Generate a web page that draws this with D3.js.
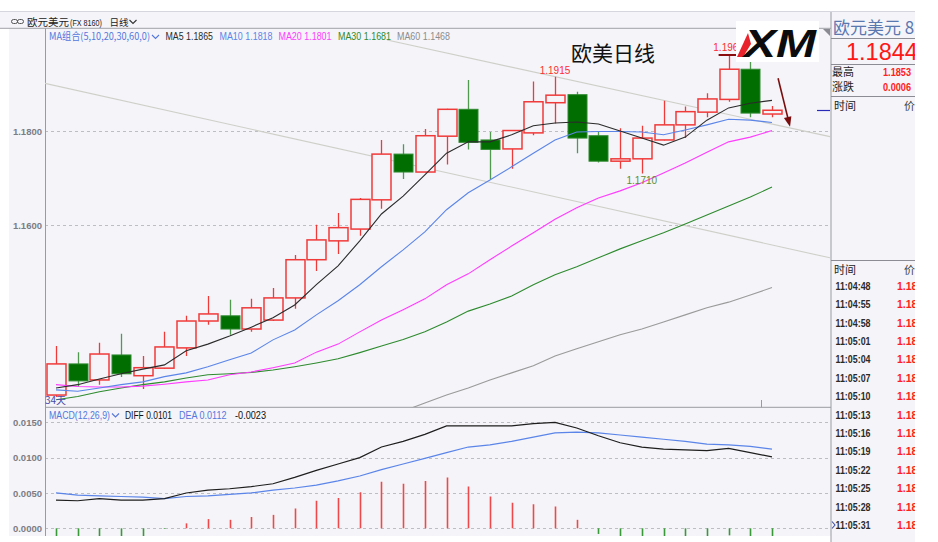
<!DOCTYPE html>
<html><head><meta charset="utf-8">
<script src="https://cdn.jsdelivr.net/npm/d3@7/dist/d3.min.js"></script>
<style>
html,body{margin:0;padding:0;background:#fff;overflow:hidden}
svg{display:block}
text{font-family:"Liberation Sans",Arial,"Noto Sans CJK SC",sans-serif}
.cjk{font-family:"Noto Sans CJK SC","Liberation Sans",sans-serif}
</style></head><body>
<svg id="chart" width="938" height="542"></svg>
<script>
// ---------------- DATA ----------------
const symbolName = "欧元美元";
const symbolCode = "(FX 8160)";
const periodName = "日线";
const chartTitle = "欧美日线";
const dayCountLabel = "34天";

const openP  = [1.1240,1.1306,1.1272,1.1325,1.1281,1.1297,1.1340,1.1397,1.1408,1.1380,1.1399,1.1446,1.1527,1.1567,1.1592,1.1654,1.1751,1.1713,1.1789,1.1846,1.1781,1.1762,1.1796,1.1860,1.1877,1.1790,1.1736,1.1741,1.1781,1.1813,1.1840,1.1867,1.1931,1.1836];
const highP  = [1.1344,1.1331,1.1351,1.1370,1.1323,1.1374,1.1408,1.1450,1.1442,1.1444,1.1467,1.1537,1.1601,1.1626,1.1658,1.1781,1.1772,1.1804,1.1847,1.1908,1.1798,1.1802,1.1905,1.1915,1.1883,1.1800,1.1806,1.1811,1.1864,1.1852,1.1880,1.1961,1.1947,1.1853];
const lowP   = [1.1236,1.1257,1.1262,1.1278,1.1253,1.1295,1.1323,1.1389,1.1368,1.1374,1.1397,1.1423,1.1503,1.1539,1.1578,1.1635,1.1698,1.1712,1.1729,1.1761,1.1698,1.1720,1.1791,1.1816,1.1753,1.1733,1.1720,1.1710,1.1780,1.1785,1.1829,1.1862,1.1829,1.1829];
const closeP = [1.1306,1.1270,1.1327,1.1285,1.1298,1.1342,1.1397,1.1412,1.1380,1.1425,1.1446,1.1527,1.1569,1.1595,1.1655,1.1751,1.1713,1.1790,1.1846,1.1776,1.1761,1.1801,1.1862,1.1876,1.1785,1.1736,1.1741,1.1785,1.1813,1.1841,1.1868,1.1931,1.1838,1.1844];

const ma5  = [1.1255,1.1262,1.1274,1.1285,1.1295,1.1304,1.1334,1.1348,1.1365,1.1384,1.1404,1.1431,1.1474,1.1514,1.1567,1.1624,1.1662,1.1707,1.1753,1.1777,1.1777,1.1792,1.1811,1.1817,1.1819,1.1815,1.1800,1.1785,1.1770,1.1787,1.1823,1.1849,1.1859,1.1865];
const ma10 = [1.1251,1.1248,1.1255,1.1262,1.1268,1.1279,1.1287,1.1300,1.1315,1.1329,1.1357,1.1378,1.1410,1.1440,1.1474,1.1512,1.1548,1.1586,1.1633,1.1669,1.1696,1.1724,1.1753,1.1781,1.1798,1.1799,1.1799,1.1798,1.1792,1.1802,1.1813,1.1825,1.1823,1.1818];
const ma20 = [1.1262,1.1258,1.1257,1.1257,1.1259,1.1263,1.1268,1.1272,1.1283,1.1289,1.1298,1.1308,1.1331,1.1348,1.1374,1.1399,1.1421,1.1444,1.1474,1.1497,1.1527,1.1556,1.1584,1.1613,1.1637,1.1658,1.1673,1.1690,1.1711,1.1732,1.1755,1.1777,1.1787,1.1801];
const ma30 = [1.1230,1.1237,1.1247,1.1255,1.1262,1.1268,1.1276,1.1283,1.1285,1.1288,1.1293,1.1300,1.1308,1.1317,1.1330,1.1344,1.1358,1.1374,1.1395,1.1418,1.1433,1.1450,1.1474,1.1495,1.1512,1.1531,1.1550,1.1567,1.1584,1.1603,1.1622,1.1641,1.1660,1.1681];
const ma60 = [null,null,null,null,null,null,null,null,null,null,null,null,null,null,null,1.1192,1.1206,1.1223,1.1240,1.1255,1.1272,1.1287,1.1302,1.1323,1.1338,1.1353,1.1368,1.1380,1.1395,1.1410,1.1425,1.1437,1.1452,1.1468];

const maNames = ["MA5","MA10","MA20","MA30","MA60"];
const maLast  = [1.1865,1.1818,1.1801,1.1681,1.1468];

const diffV = [0.0040,0.0039,0.0042,0.0040,0.0040,0.0042,0.0050,0.0054,0.0056,0.0059,0.0063,0.0072,0.0082,0.0091,0.0100,0.0115,0.0123,0.0133,0.0145,0.0145,0.0145,0.0145,0.0148,0.0150,0.0142,0.0131,0.0121,0.0115,0.0112,0.0111,0.0110,0.0113,0.0107,0.0101];
const deaV  = [0.0050,0.0047,0.0046,0.0045,0.0044,0.0042,0.0045,0.0046,0.0048,0.0050,0.0054,0.0057,0.0061,0.0067,0.0074,0.0083,0.0091,0.0099,0.0107,0.0115,0.0118,0.0123,0.0129,0.0135,0.0136,0.0135,0.0132,0.0129,0.0126,0.0123,0.0119,0.0118,0.0116,0.0112];
const macdV = [-0.0020,-0.0016,-0.0012,-0.0012,-0.0011,-0.0001,0.0007,0.0013,0.0012,0.0016,0.0019,0.0028,0.0039,0.0043,0.0051,0.0066,0.0063,0.0067,0.0072,0.0059,0.0045,0.0036,0.0034,0.0031,0.0012,-0.0008,-0.0022,-0.0028,-0.0028,-0.0024,-0.0018,-0.0010,-0.0018,-0.0023];
const macdLegend = {diff:0.0101, dea:0.0112, macd:-0.0023};

const priceTicks = [1.16, 1.18];
const macdTicks  = [0, 0.005, 0.010, 0.015];

// labelled extremes (candle index)
const highLabelIdx = [23, 31];
const lowLabelIdx  = [27];

// trend lines drawn on chart: [index, price] endpoints
const trendLines = [
  [[-0.51,1.1901],[35.67,1.1531]],
  [[15.26,1.1993],[35.67,1.1788]]
];
const arrowAnno = [[33.28,1.1912],[33.83,1.1809]];

const lastPrice = 1.1844, dayHigh = 1.1853, dayChange = 0.0006;
const tickTimes = ["11:04:48","11:04:55","11:04:58","11:05:01","11:05:04","11:05:07","11:05:10","11:05:13","11:05:16","11:05:19","11:05:22","11:05:25","11:05:28","11:05:31"];
const tickPrices = ["1.18","1.18","1.18","1.18","1.18","1.18","1.18","1.18","1.18","1.18","1.18","1.18","1.18","1.18"];

// ---------------- LAYOUT ----------------
const W=938,H=542, BG="#f4f4f9";
const L=45, R=830.5, T=28.3, MB=407.3, BOT=536, PR=915;
const RED="#f03a3a", GREEN="#006e00", GREENW="#4f9a4f";
const n = openP.length;
const svg = d3.select("#chart");

const xs = d3.scaleLinear().domain([0,n-1]).range([56,772]);
const ys = d3.scaleLinear().domain([1.16,1.18]).range([225.3,131]);
const ym = d3.scaleLinear().domain([0,0.015]).range([528.3,422.3]);
const bodyW = 19;

// backgrounds
svg.append("rect").attr("width",W).attr("height",H).attr("fill","#fff");
svg.append("rect").attr("x",0).attr("y",12).attr("width",PR).attr("height",T-12).attr("fill",BG);
svg.append("rect").attr("x",9).attr("y",T).attr("width",PR-9).attr("height",BOT-T).attr("fill",BG);
svg.append("rect").attr("x",831).attr("y",12).attr("width",PR-831).attr("height",H-12).attr("fill",BG);
svg.append("line").attr("x1",0).attr("x2",PR).attr("y1",11.5).attr("y2",11.5).attr("stroke","#d6d6de");
svg.append("line").attr("x1",0).attr("x2",831).attr("y1",T).attr("y2",T).attr("stroke","#a0a0a8");

// header
const hdr = svg.append("g");
hdr.append("rect").attr("x",11.5).attr("y",19.5).attr("width",6).attr("height",4).attr("rx",2).attr("fill","none").attr("stroke","#555");
hdr.append("rect").attr("x",17.5).attr("y",19.5).attr("width",6).attr("height",4).attr("rx",2).attr("fill","none").attr("stroke","#555");
hdr.append("text").attr("class","cjk").attr("x",27).attr("y",25.5).attr("font-size",10.5).attr("fill","#222").text(symbolName);
hdr.append("text").attr("x",70).attr("y",25.5).attr("font-size",8.5).attr("fill","#222").attr("textLength",32).attr("lengthAdjust","spacingAndGlyphs").text(symbolCode);
hdr.append("text").attr("class","cjk").attr("x",109.5).attr("y",25.5).attr("font-size",9.5).attr("fill","#222").text(periodName);
function chevron(g,x,y,color){
  g.append("path").attr("d",`M${x},${y-2}L${x+3.5},${y+1.5}L${x+7},${y-2}`).attr("fill","none").attr("stroke",color).attr("stroke-width",1.1);
}
chevron(hdr,129.5,22,"#333");

// clip paths
const defs = svg.append("defs");
defs.append("clipPath").attr("id","clipMain").append("rect").attr("x",L).attr("y",T).attr("width",R-L).attr("height",MB-T);
defs.append("clipPath").attr("id","clipMacd").append("rect").attr("x",L).attr("y",MB).attr("width",R-L).attr("height",BOT-MB);

// grid lines
const grid = svg.append("g");
grid.selectAll("line.pg").data(priceTicks).join("line").attr("class","pg")
  .attr("x1",L).attr("x2",R).attr("y1",d=>Math.round(ys(d))+0.5).attr("y2",d=>Math.round(ys(d))+0.5)
  .attr("stroke","#bdbdc4").attr("stroke-dasharray","3,3");
grid.selectAll("line.mg").data(macdTicks).join("line").attr("class","mg")
  .attr("x1",L).attr("x2",R).attr("y1",d=>Math.round(ym(d))+0.5).attr("y2",d=>Math.round(ym(d))+0.5)
  .attr("stroke","#bdbdc4").attr("stroke-dasharray","3,3");

// axes
const ax1 = svg.append("g").attr("transform",`translate(${L},0)`)
  .call(d3.axisLeft(ys).tickValues(priceTicks).tickFormat(d3.format(".4f")).tickSize(0).tickPadding(3));
const ax2 = svg.append("g").attr("transform",`translate(${L},0)`)
  .call(d3.axisLeft(ym).tickValues(macdTicks).tickFormat(d3.format(".4f")).tickSize(0).tickPadding(3));
[ax1,ax2].forEach(a=>{
  a.select(".domain").remove();
  a.attr("font-family","Liberation Sans, Arial, sans-serif").attr("font-size",9.5);
  a.selectAll("text").attr("fill","#7c7c84").attr("font-weight","bold");
});
svg.append("line").attr("x1",L+0.5).attr("x2",L+0.5).attr("y1",T).attr("y2",BOT).attr("stroke","#9a9aa2");
svg.append("line").attr("x1",L).attr("x2",831).attr("y1",MB).attr("y2",MB).attr("stroke","#9a9aa2");
svg.append("line").attr("x1",831).attr("x2",831).attr("y1",12).attr("y2",H).attr("stroke","#9a9aa2");
svg.append("line").attr("x1",761.5).attr("x2",761.5).attr("y1",400).attr("y2",MB).attr("stroke","#9a9aa2");

// main plot
const main = svg.append("g").attr("clip-path","url(#clipMain)");
main.selectAll("line.trend").data(trendLines).join("line").attr("class","trend")
  .attr("x1",d=>xs(d[0][0])).attr("y1",d=>ys(d[0][1])).attr("x2",d=>xs(d[1][0])).attr("y2",d=>ys(d[1][1]))
  .attr("stroke","#cfcfc8").attr("stroke-width",1.1);

const cd = d3.range(n).map(i=>({i,o:openP[i],h:highP[i],l:lowP[i],c:closeP[i],up:closeP[i]>=openP[i]}));
main.selectAll("line.wick").data(cd).join("line").attr("class","wick")
  .attr("x1",d=>Math.round(xs(d.i))+0.5).attr("x2",d=>Math.round(xs(d.i))+0.5)
  .attr("y1",d=>ys(d.h)).attr("y2",d=>ys(d.l))
  .attr("stroke",d=>d.up?RED:GREENW).attr("stroke-width",1.3);
main.selectAll("rect.body").data(cd).join("rect").attr("class","body")
  .attr("x",d=>Math.round(xs(d.i))-bodyW/2+0.5).attr("width",bodyW)
  .attr("y",d=>ys(Math.max(d.o,d.c))).attr("height",d=>Math.max(1.5,Math.abs(ys(d.o)-ys(d.c))))
  .attr("fill",d=>d.up?BG:GREEN).attr("stroke",d=>d.up?RED:"#2f8a2f").attr("stroke-width",d=>d.up?1.5:1);

const maColors = ["#2b2b2b","#5b85e8","#ff3cff","#2e8b2e","#9a9a9a"];
const maSeries = [ma5,ma10,ma20,ma30,ma60];
const lineGen = d3.line().defined(d=>d!=null).x((d,i)=>xs(i)).y(d=>ys(d));
[4,3,2,1,0].forEach(k=>{
  main.append("path").attr("d",lineGen(maSeries[k])).attr("fill","none")
    .attr("stroke",maColors[k]).attr("stroke-width",1.1);
});

// high / low annotations
const iMax = d3.maxIndex(highP);
main.append("line").attr("x1",xs(iMax)-10).attr("x2",xs(iMax)+9).attr("y1",ys(highP[iMax])).attr("y2",ys(highP[iMax]))
  .attr("stroke","#8a0c0c").attr("stroke-width",2);
highLabelIdx.forEach(i=>{
  main.append("text").attr("x",xs(i)).attr("y",ys(highP[i])-(i===iMax?4:2.5)).attr("text-anchor","middle")
    .attr("font-size",10).attr("fill","#ff2d2d").text(highP[i].toFixed(4));
});
lowLabelIdx.forEach(i=>{
  main.append("text").attr("x",xs(i)).attr("y",ys(lowP[i])+11).attr("text-anchor","middle")
    .attr("font-size",10).attr("fill","#5d8f35").text(lowP[i].toFixed(4));
});

// arrow annotation
const ax0=xs(arrowAnno[0][0]), ay0=ys(arrowAnno[0][1]), ax1p=xs(arrowAnno[1][0]), ay1=ys(arrowAnno[1][1]);
const ang = Math.atan2(ay1-ay0, ax1p-ax0);
main.append("line").attr("x1",ax0).attr("y1",ay0).attr("x2",ax1p-Math.cos(ang)*6).attr("y2",ay1-Math.sin(ang)*6)
  .attr("stroke","#7a0e0e").attr("stroke-width",1.6);
const hl=10, hw=3.8;
const bx=ax1p-Math.cos(ang)*hl, by=ay1-Math.sin(ang)*hl;
main.append("path").attr("d",`M${ax1p},${ay1}L${bx+Math.sin(ang)*hw},${by-Math.cos(ang)*hw}L${bx-Math.sin(ang)*hw},${by+Math.cos(ang)*hw}Z`).attr("fill","#7a0e0e");

// current price marker
svg.append("line").attr("x1",817).attr("x2",830).attr("y1",Math.round(ys(lastPrice))+0.5).attr("y2",Math.round(ys(lastPrice))+0.5)
  .attr("stroke","#2a2ab8").attr("stroke-width",1.2);

// MA legend
const leg = svg.append("g").attr("font-size",10);
leg.append("text").attr("class","cjk").attr("x",49).attr("y",40).attr("fill","#5577dd")
  .attr("textLength",101).attr("lengthAdjust","spacingAndGlyphs").text("MA组合(5,10,20,30,60,0)");
chevron(leg,152,37,"#5577dd");
const legX = [165.5,219.5,278.5,338,397], legW=[47.5,53,53,53,53];
maNames.forEach((nm,k)=>{
  leg.append("text").attr("x",legX[k]).attr("y",40).attr("fill",k===4?"#8c8c8c":maColors[k])
    .attr("textLength",legW[k]).attr("lengthAdjust","spacingAndGlyphs").text(nm+" "+maLast[k].toFixed(4));
});

// title
svg.append("text").attr("class","cjk").attr("x",571).attr("y",61).attr("font-size",21).attr("fill","#111").text(chartTitle);
svg.append("text").attr("class","cjk").attr("x",45).attr("y",404).attr("font-size",10).attr("fill","#4a4aa8").text(dayCountLabel);

// XM logo
const logo = svg.append("g");
logo.append("rect").attr("x",736).attr("y",21).attr("width",83).attr("height",41).attr("fill","#fff");
logo.append("path").attr("d","M737,57L748,33L751,44L743,57Z").attr("fill","#e8232b");
logo.append("text").attr("x",744).attr("y",57).attr("font-size",38).attr("font-weight","bold").attr("font-style","italic")
  .attr("fill","#0c0c0c").attr("textLength",72).attr("lengthAdjust","spacingAndGlyphs").text("XM");
svg.append("path").attr("d","M823,29L830,29L830,36Z").attr("fill","#8a8a92");

// MACD panel
const mg = svg.append("g").attr("clip-path","url(#clipMacd)");
const md = d3.range(n).map(i=>({i,v:macdV[i]}));
mg.selectAll("line.hist").data(md).join("line").attr("class","hist")
  .attr("x1",d=>Math.round(xs(d.i))+0.5).attr("x2",d=>Math.round(xs(d.i))+0.5)
  .attr("y1",ym(0)).attr("y2",d=>ym(d.v))
  .attr("stroke",d=>d.v>=0?"#f04848":"#3a9a3a").attr("stroke-width",1.6);
const mline = d3.line().x((d,i)=>xs(i)).y(d=>ym(d));
mg.append("path").attr("d",mline(deaV)).attr("fill","none").attr("stroke","#5b85e8").attr("stroke-width",1.2);
mg.append("path").attr("d",mline(diffV)).attr("fill","none").attr("stroke","#1e1e1e").attr("stroke-width",1.2);

const ml = svg.append("g").attr("font-size",10);
ml.append("text").attr("x",49).attr("y",418.5).attr("fill","#5577dd").attr("textLength",61).attr("lengthAdjust","spacingAndGlyphs").text("MACD(12,26,9)");
chevron(ml,112,415.5,"#5577dd");
ml.append("text").attr("x",125).attr("y",418.5).attr("fill","#111").attr("textLength",47).attr("lengthAdjust","spacingAndGlyphs").text("DIFF "+macdLegend.diff.toFixed(4));
ml.append("text").attr("x",179).attr("y",418.5).attr("fill","#5577dd").attr("textLength",47.5).attr("lengthAdjust","spacingAndGlyphs").text("DEA "+macdLegend.dea.toFixed(4));
ml.append("text").attr("x",235).attr("y",418.5).attr("fill","#111").attr("textLength",31).attr("lengthAdjust","spacingAndGlyphs").text(macdLegend.macd.toFixed(4));

// right panel
const rp = svg.append("g");
rp.append("text").attr("class","cjk").attr("x",833).attr("y",34).attr("font-size",17).attr("fill","#5a78b0").text(symbolName+" 8");
[38.5,64.5,96.5,260.5].forEach(y=>rp.append("line").attr("x1",831).attr("x2",PR).attr("y1",y).attr("y2",y).attr("stroke","#8c8c94"));
rp.append("text").attr("x",846).attr("y",60).attr("font-size",23.5).attr("fill","#ff1616").text(lastPrice.toFixed(4));
rp.append("text").attr("class","cjk").attr("x",832).attr("y",76).attr("font-size",11).attr("fill","#222").text("最高");
rp.append("text").attr("x",883).attr("y",76).attr("font-size",10).attr("font-weight","bold").attr("fill","#ff2020").attr("textLength",28).attr("lengthAdjust","spacingAndGlyphs").text(dayHigh.toFixed(4));
rp.append("text").attr("class","cjk").attr("x",832).attr("y",91).attr("font-size",11).attr("fill","#222").text("涨跌");
rp.append("text").attr("x",883).attr("y",91).attr("font-size",10).attr("font-weight","bold").attr("fill","#ff2020").attr("textLength",28).attr("lengthAdjust","spacingAndGlyphs").text(dayChange.toFixed(4));
[110,274].forEach(y=>{
  rp.append("text").attr("class","cjk").attr("x",834).attr("y",y).attr("font-size",11).attr("fill","#222").text("时间");
  rp.append("text").attr("class","cjk").attr("x",904).attr("y",y).attr("font-size",11).attr("fill","#444").text("价");
});
rp.selectAll("text.tt").data(tickTimes).join("text").attr("class","tt")
  .attr("x",835.5).attr("y",(d,i)=>289.7+i*18.4).attr("font-size",10.5).attr("font-weight","bold").attr("fill","#2a2a2a")
  .attr("textLength",35).attr("lengthAdjust","spacingAndGlyphs").text(d=>d);
rp.selectAll("text.tp").data(tickPrices).join("text").attr("class","tp")
  .attr("x",897).attr("y",(d,i)=>289.7+i*18.4).attr("font-size",10.5).attr("font-weight","bold").attr("fill","#ff2020")
  .text(d=>d);
rp.append("path").attr("d","M832,521.5L835,525L832,528.5").attr("fill","none").attr("stroke","#4050a0").attr("stroke-width",1.1);
// white cover right of panel
svg.append("rect").attr("x",PR).attr("y",0).attr("width",W-PR).attr("height",H).attr("fill","#fff");
</script>
</body></html>
